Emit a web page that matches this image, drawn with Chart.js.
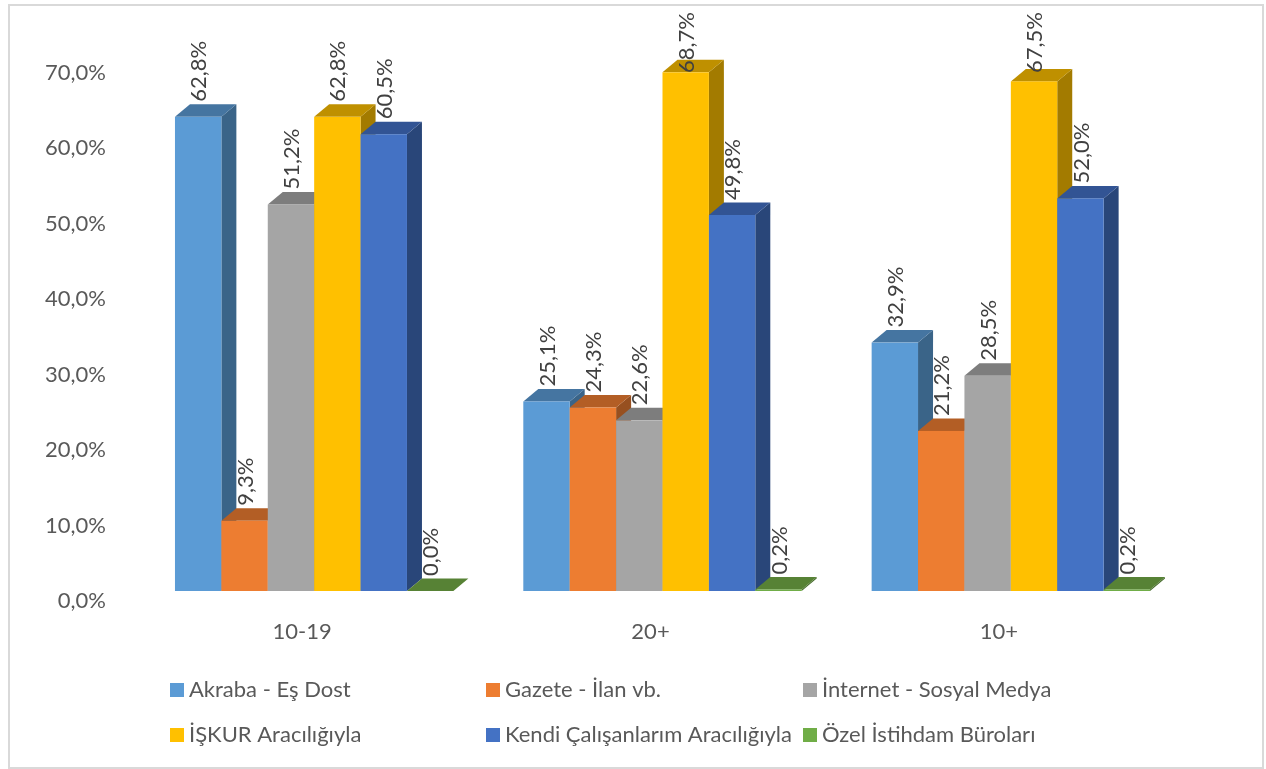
<!DOCTYPE html>
<html>
<head>
<meta charset="utf-8">
<style>
  html, body { margin: 0; padding: 0; background: #fff; }
  canvas { display: block; }
</style>
<script src="https://cdn.jsdelivr.net/npm/chart.js@4"></script>
</head>
<body>
<canvas id="chart" width="1266" height="769"></canvas>
<script>
const categories = ['10-19', '20+', '10+'];
const seriesNames = ['Akraba - Eş Dost', 'Gazete - İlan vb.', 'İnternet - Sosyal Medya', 'İŞKUR Aracılığıyla', 'Kendi Çalışanlarım Aracılığıyla', 'Özel İstihdam Büroları'];
const akraba = [62.8, 25.1, 32.9];
const gazete = [9.3, 24.3, 21.2];
const internet = [51.2, 22.6, 28.5];
const iskur = [62.8, 68.7, 67.5];
const kendi = [60.5, 49.8, 52.0];
const ozel = [0.0, 0.2, 0.2];
const seriesValues = [akraba, gazete, internet, iskur, kendi, ozel];

const frontColors = ['#5B9BD5', '#ED7D31', '#A5A5A5', '#FFC000', '#4472C4', '#70AD47'];
const topColors = ['#4575A1', '#B35E25', '#7D7D7D', '#BF9000', '#325494', '#578235'];
const sideColors = ['#3A6488', '#975020', '#6A6A6A', '#A37B00', '#294679', '#486D2E'];

const FONT = 'Lato, sans-serif';
const FONT_SIZE = 22;
const DEPTH_X = 15;
const DEPTH_Y = 12.5;
const LABEL_TOP = 12; // tall labels get pushed down so they stay inside the frame

// each bar is drawn by hand so later series sit on top of earlier ones
const bars3d = {
  id: 'bars3d',
  beforeDatasetDraw() {
    return false;
  },
  afterDatasetsDraw(chart) {
    const ctx = chart.ctx;
    chart.data.datasets.forEach((ds, i) => {
      chart.getDatasetMeta(i).data.forEach(bar => {
        const left = bar.x - bar.width / 2;
        const right = bar.x + bar.width / 2;
        // side face
        ctx.fillStyle = sideColors[i];
        ctx.beginPath();
        ctx.moveTo(right, bar.y);
        ctx.lineTo(right + DEPTH_X, bar.y - DEPTH_Y);
        ctx.lineTo(right + DEPTH_X, bar.base - DEPTH_Y);
        ctx.lineTo(right, bar.base);
        ctx.closePath();
        ctx.fill();
        // top face
        ctx.fillStyle = topColors[i];
        ctx.beginPath();
        ctx.moveTo(left, bar.y);
        ctx.lineTo(left + DEPTH_X, bar.y - DEPTH_Y);
        ctx.lineTo(right + DEPTH_X, bar.y - DEPTH_Y);
        ctx.lineTo(right, bar.y);
        ctx.closePath();
        ctx.fill();
        // front face
        ctx.fillStyle = frontColors[i];
        ctx.fillRect(left, bar.y, bar.width, bar.base - bar.y);
      });
    });

    // value labels, rotated
    ctx.font = FONT_SIZE + 'px ' + FONT;
    ctx.fillStyle = '#404040';
    ctx.textAlign = 'left';
    ctx.textBaseline = 'middle';
    chart.data.datasets.forEach((ds, i) => {
      chart.getDatasetMeta(i).data.forEach((bar, j) => {
        const text = ds.data[j].toFixed(1).replace('.', ',') + '%';
        const y = Math.max(bar.y - 15, LABEL_TOP + ctx.measureText(text).width);
        ctx.save();
        ctx.translate(bar.x + 1, y);
        ctx.rotate(-Math.PI / 2);
        ctx.fillText(text, 0, 0);
        ctx.restore();
      });
    });
  },
  beforeDraw(chart) {
    const ctx = chart.ctx;
    ctx.fillStyle = '#fff';
    ctx.fillRect(0, 0, chart.width, chart.height);
    ctx.strokeStyle = '#D9D9D9';
    ctx.lineWidth = 2;
    ctx.strokeRect(9, 5, 1254, 763);
  },
  afterDraw(chart) {
    // legend: three columns, two rows
    const ctx = chart.ctx;
    const colX = [170, 486, 803];
    const rowY = [690, 735];
    ctx.font = FONT_SIZE + 'px ' + FONT;
    ctx.textAlign = 'left';
    ctx.textBaseline = 'middle';
    seriesNames.forEach((name, i) => {
      const x = colX[i % 3];
      const y = rowY[Math.floor(i / 3)];
      ctx.fillStyle = frontColors[i];
      ctx.fillRect(x, y - 7, 14, 14);
      ctx.fillStyle = '#595959';
      ctx.fillText(name, x + 19, y);
    });
  }
};

new Chart(document.getElementById('chart'), {
  type: 'bar',
  data: {
    labels: categories,
    datasets: seriesNames.map((name, i) => ({
      label: name,
      data: seriesValues[i],
      backgroundColor: frontColors[i]
    }))
  },
  plugins: [bars3d],
  options: {
    responsive: false,
    animation: false,
    layout: { padding: { left: 0, right: 81, top: 62.5, bottom: 0 } },
    datasets: { bar: { categoryPercentage: 0.7992, barPercentage: 1 } },
    plugins: {
      legend: { display: false },
      tooltip: { enabled: false }
    },
    scales: {
      x: {
        grid: { display: false, drawTicks: false },
        border: { display: false },
        ticks: { color: '#595959', font: { family: FONT, size: FONT_SIZE }, padding: 28, labelOffset: -12, maxRotation: 0 },
        afterFit(scale) { scale.height = 178; }
      },
      y: {
        min: 0,
        max: 70,
        grid: { display: false, drawTicks: false },
        border: { display: false },
        ticks: {
          stepSize: 10,
          color: '#595959',
          font: { family: FONT, size: FONT_SIZE },
          padding: 34,
          labelOffset: 10,
          callback: v => v.toFixed(1).replace('.', ',') + '%'
        },
        afterFit(scale) { scale.width = 140; }
      }
    }
  }
});
</script>
</body>
</html>
